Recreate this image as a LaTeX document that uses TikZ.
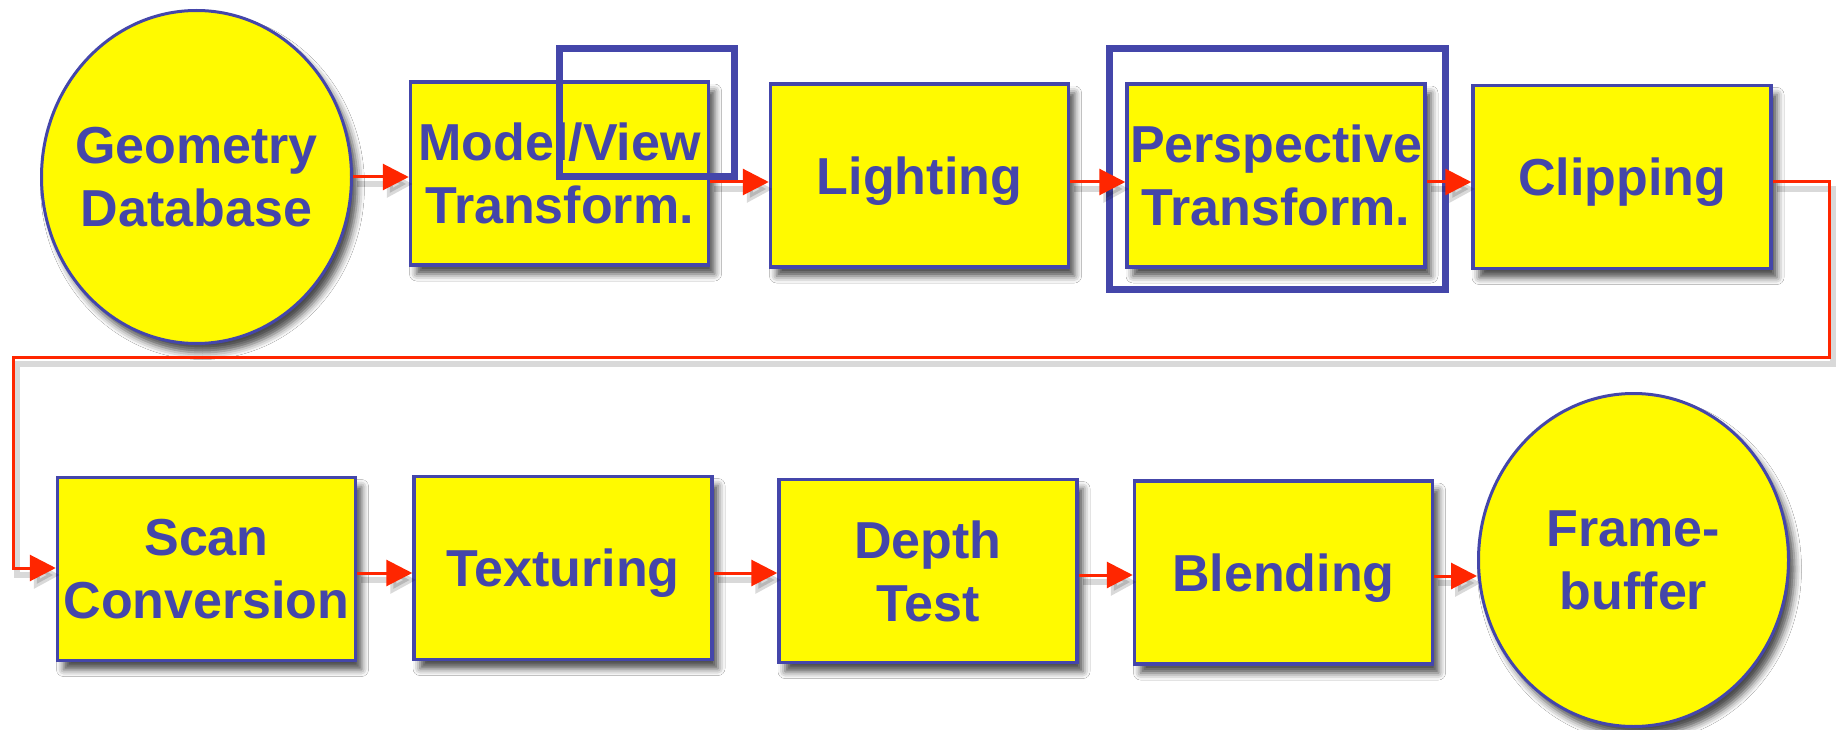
\documentclass[tikz,border=0pt]{standalone}
\usepackage{fontspec}
\setmainfont{Liberation Sans}
\usetikzlibrary{arrows.meta,shapes.geometric,shadows.blur}
\definecolor{pblue}{RGB}{68,70,170}
\definecolor{pyellow}{RGB}{255,250,0}
\definecolor{pred}{RGB}{255,38,0}
\begin{document}
\begin{tikzpicture}[x=1pt,y=-1pt,
  txt/.style={text=pblue, font=\fontsize{52}{63}\selectfont\bfseries, align=center, inner sep=0pt},
  shad/.style={blur shadow={shadow xshift=6pt, shadow yshift=-9pt, shadow blur radius=7pt, shadow opacity=70}},
  stage/.style={txt, rectangle, draw=pblue, line width=3.5pt, fill=pyellow, minimum width=298pt, minimum height=183pt, shad},
  oneline/.style={text depth=0pt},
  store/.style={txt, ellipse, inner xsep=-25pt, draw=pblue, line width=3pt, fill=pyellow, minimum width=310pt, minimum height=333pt, shad},
  hilite/.style={rectangle, draw=pblue, line width=7pt, inner sep=0pt},
  arr/.style={draw=pred, line width=3pt, -{Triangle[length=26pt,width=26pt]},
    preaction={draw=black, opacity=0.15, line width=6pt, transform canvas={shift={(4pt,-7pt)}}}}
]
\useasboundingbox[fill=white] (0,0) rectangle (1837,730);

\node[store] (geo) at (196.5,177) {Geometry\\Database};
\node[stage] (mv) at (559.5,173.5) {Model/View\\Transform.};
\node[stage, oneline] (light) at (919.5,175.5) {Lighting};
\node[stage] (persp) at (1276,175.5) {Perspective\\Transform.};
\node[stage, oneline] (clip) at (1622,177) {Clipping};
\node[stage] (scan) at (206.5,569) {Scan\\Conversion};
\node[stage, oneline] (tex) at (563,568) {Texturing};
\node[stage] (depth) at (928,571) {Depth\\Test};
\node[stage, oneline] (blend) at (1283.5,572.5) {Blending};
\node[store] (frame) at (1633.5,560) {Frame-\\buffer};

\node[hilite, minimum width=175pt, minimum height=128pt] (hlmv) at (647,112.5) {};
\node[hilite, minimum width=336pt, minimum height=241pt] (hlpt) at (1277.5,169) {};

\draw[arr] (geo.east) -- (geo.east -| mv.west);
\draw[arr] (mv.east |- 0,182) -- (light.west |- 0,182);
\draw[arr] (light.east |- 0,182) -- (persp.west |- 0,182);
\draw[arr] (persp.east |- 0,182) -- (clip.west |- 0,182);
\draw[arr] (clip.east |- 0,182) -| (1829,357) -| (13,568) -- (scan.west |- 0,568);
\draw[arr] (scan.east |- 0,573) -- (tex.west |- 0,573);
\draw[arr] (tex.east |- 0,573) -- (depth.west |- 0,573);
\draw[arr] (depth.east |- 0,575) -- (blend.west |- 0,575);
\draw[arr] (blend.east |- 0,576) -- (frame.west |- 0,576);
\end{tikzpicture}
\end{document}
